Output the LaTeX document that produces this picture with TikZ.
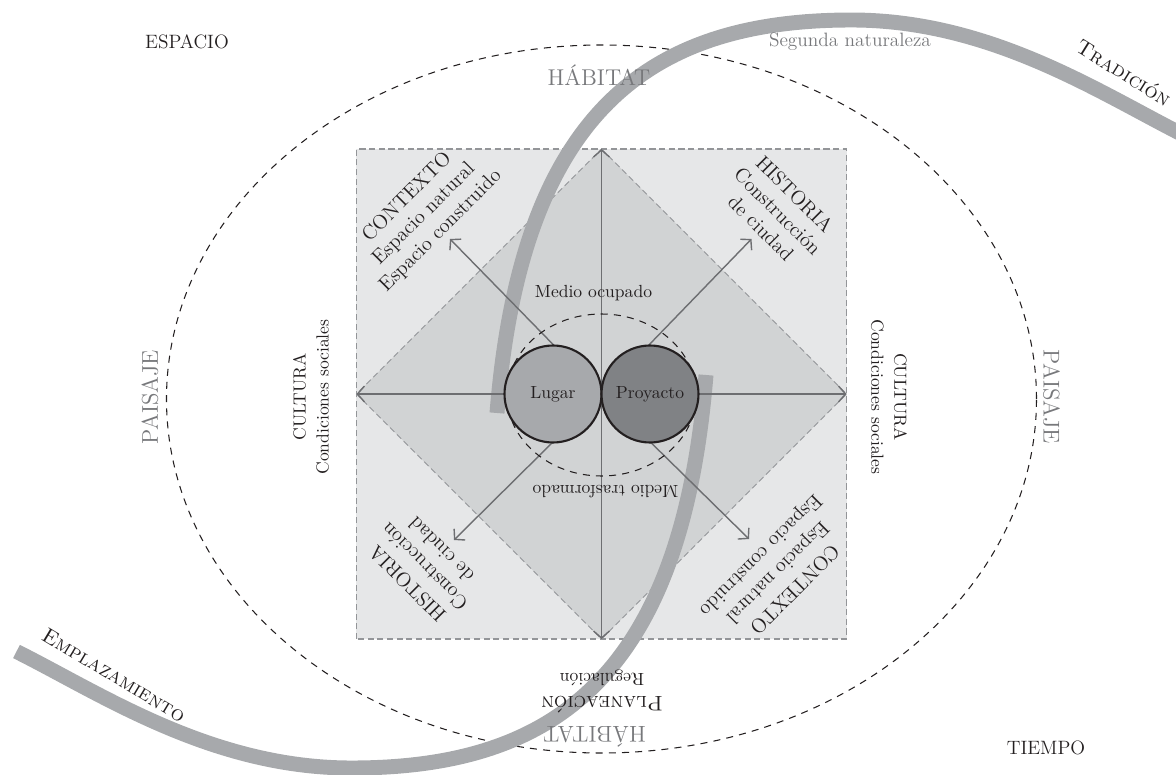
\documentclass[tikz,border=0pt]{standalone}
\usetikzlibrary{arrows.meta}
\definecolor{sqfill}{HTML}{E6E7E8}
\definecolor{dmfill}{HTML}{D1D3D4}
\definecolor{edge}{HTML}{939598}
\definecolor{band}{HTML}{A7A9AC}
\definecolor{lugfill}{HTML}{A7A9AC}
\definecolor{proyfill}{HTML}{808285}
\definecolor{axgray}{HTML}{6D6E71}
\definecolor{txtgray}{HTML}{77787B}
\definecolor{ink}{HTML}{231F20}
\begin{document}
\begin{tikzpicture}[>={Straight Barb[length=4pt,width=9pt]},
  ax/.style={draw=axgray,line width=0.8pt},
  dashline/.style={draw=edge,line width=0.6pt,dash pattern=on 3.5pt off 2pt},
  lbl/.style={font=\fontsize{10}{13}\selectfont,text=ink,align=center},
  diag/.style={font=\fontsize{11.5}{13.5}\selectfont,text=ink,align=center},
  big/.style={font=\fontsize{13}{15}\selectfont,text=txtgray},
  ring/.style={circle,draw=ink,line width=1.2pt,minimum size=1.94cm,inner sep=0pt,
    font=\fontsize{10}{11}\selectfont,text=ink}]
\clip(-12.03,-7.62)rectangle(11.49,7.88);
\coordinate(O)at(0,0);
\coordinate(T)at(0,4.9);
\coordinate(R)at(4.9,0);
\coordinate(B)at(0,-4.9);
\coordinate(L)at(-4.9,0);
\coordinate(ul)at(-3.03,3.1);
\coordinate(ur)at(3.0,3.1);
\coordinate(dl)at(-2.95,-2.92);
\coordinate(dr)at(2.95,-2.9);
% square and diamond
\fill[sqfill](-4.9,-4.9)rectangle(4.9,4.9);
\draw[dashline](-4.9,-4.9)rectangle(4.9,4.9);
\fill[dmfill](T)--(R)--(B)--(L)--cycle;
\draw[dashline,line width=0.5pt](T)--(R)--(B)--(L)--cycle;
\draw[ink,line width=0.6pt,dash pattern=on 4pt off 3.5pt](0,-0.1)ellipse(8.7 and 7.08);
% the two swooshes
\foreach \r in {0,180}
  \draw[band,line width=8.5pt,rotate=\r](-2.09,-0.38)..controls(-1.6,5.7)and(1,7.48)..(5,7.48)
    ..controls(7.8,7.48)and(10,6)..(11.7,5.15);
% axes
\draw[ax,<->](L)--(R);
\draw[ax,<->](B)--(T);
\draw[ax,->](O)--(ul);
\draw[ax,->](O)--(ur);
\draw[ax,->](O)--(dl);
\draw[ax,->](O)--(dr);
\draw[ink,line width=0.6pt,dash pattern=on 4pt off 3.5pt](0,-0.02)ellipse(1.89 and 1.62);
\node[ring,fill=lugfill](lugar)at(-0.97,0){Lugar};
\node[ring,fill=proyfill](proyecto)at(0.97,0){Proyacto};
% labels
\node[lbl](ocup)at(-0.16,2.01){Medio ocupado};
\node[lbl,rotate=180](trasf)at(0.08,-1.95){Medio trasformado};
\node[diag,rotate=45](ctxA)at(-3.55,3.6){CONTEXTO\\Espacio natural\\Espacio construido};
\node[diag,rotate=-45](hisA)at(3.53,3.66){HISTORIA\\Construcción\\de ciudad};
\node[diag,rotate=135](hisB)at(-3.55,-3.46){HISTORIA\\Construcción\\de ciudad};
\node[diag,rotate=-135](ctxB)at(3.51,-3.56){CONTEXTO\\Espacio natural\\Espacio construido};
\node[lbl,rotate=90](cultA)at(-5.81,-0.06){CULTURA\\Condiciones sociales};
\node[lbl,rotate=-90](cultB)at(5.75,-0.06){CULTURA\\Condiciones sociales};
\node[lbl,rotate=180](plan)at(0.01,-5.94){{\fontsize{12}{13}\selectfont\textsc{Planeación}}\\Regulación};
\node[big](habA)at(-0.05,6.38){HÁBITAT};
\node[big,rotate=180](habB)at(-0.14,-6.85){HÁBITAT};
\node[big,rotate=90](paisA)at(-9.03,-0.06){PAISAJE};
\node[big,rotate=-90](paisB)at(9.0,-0.06){PAISAJE};
\node[lbl,font=\fontsize{11}{13}\selectfont](esp)at(-8.29,7.04){ESPACIO};
\node[lbl,font=\fontsize{11}{13}\selectfont](tiem)at(8.89,-7.08){TIEMPO};
\node[big,font=\fontsize{11}{13}\selectfont](seg)at(4.97,7.04){Segunda naturaleza};
\node[lbl,font=\fontsize{12}{14}\selectfont,rotate=-32](trad)at(10.45,6.44){\textsc{Tradición}};
\node[lbl,font=\fontsize{12}{14}\selectfont,rotate=-31](empl)at(-9.75,-5.62){\textsc{Emplazamiento}};
\end{tikzpicture}
\end{document}
